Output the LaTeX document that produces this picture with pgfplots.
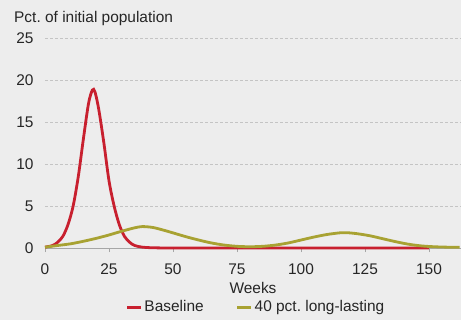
\documentclass[border=0pt]{standalone}
\usepackage{pgfplots}
\pgfplotsset{compat=1.18}
\usepackage{fontspec}
\setmainfont{Liberation Sans}

\definecolor{bgc}{HTML}{EDEDED}
\definecolor{basered}{HTML}{C8202F}
\definecolor{olive}{HTML}{A8A232}
\definecolor{gridc}{HTML}{C4C4C4}
\definecolor{axisc}{HTML}{A6A6A6}
\definecolor{txt}{HTML}{262626}

\begin{document}
\begin{tikzpicture}[font=\fontsize{15.5}{18}\selectfont, text=txt]
% page background
\path[use as bounding box, fill=bgc] (-45bp,-72bp) rectangle (416bp,248bp);
\begin{axis}[
  at={(0,0)}, anchor=south west,
  scale only axis, width=416bp, height=210bp,
  xmin=0, xmax=162.5, ymin=0, ymax=25,
  clip=false,
  axis x line*=bottom, axis y line*=left,
  x axis line style={draw=axisc, line width=0.8bp, -},
  y axis line style={draw=none},
  xtick={0,25,...,150}, ytick={0,5,...,25},
  xtick align=outside, major tick length=4bp,
  xtick style={draw=axisc, line width=0.8bp},
  ytick style={draw=none},
  ymajorgrids,
  grid style={draw=gridc, line width=0.8bp, dash pattern=on 3bp off 2bp},
  /pgf/number format/assume math mode=true,
  tick label style={font=\fontsize{15.5}{18}\selectfont, text=txt},
  yticklabel style={xshift=-8bp},
  xticklabel style={yshift=-8bp},
  xlabel={Weeks},
  xlabel style={font=\fontsize{15.5}{18}\selectfont, text=txt, yshift=-1bp},
  legend columns=2,
  legend style={at={(0.507,-0.281)}, anchor=center, draw=none, fill=none,
    font=\fontsize{15.5}{18}\selectfont, text=txt,
    /tikz/every even column/.append style={column sep=30bp}},
  legend image code/.code={\draw[#1, line width=3bp] (0bp,0bp) -- (14bp,0bp);},
]
\addplot[basered, line width=2.8bp, smooth] coordinates {
(0,0.1) (3,0.3) (5,0.7) (7,1.4) (9,2.8) (11,5.0) (13,8.5) (15,13.0)
(17,17.2) (18.5,18.8) (19.5,18.6) (21,16.5) (23,12.5) (25,8.0) (27,5.0)
(29,2.8) (31,1.4) (33,0.7) (35,0.3) (38,0.1) (42,0.03) (50,0.0)
(75,0.0) (100,0.0) (125,0.0) (150,0.0)
};
\addlegendentry{Baseline}
\addplot[olive, line width=2.8bp, smooth] coordinates {
(0,0.1) (5,0.3) (10,0.5) (15,0.8) (20,1.15) (25,1.55) (30,2.0) (35,2.4)
(38,2.55) (42,2.45) (46,2.15) (50,1.8) (55,1.35) (60,0.95) (65,0.6)
(70,0.35) (75,0.2) (80,0.15) (85,0.2) (90,0.35) (95,0.6) (100,0.95)
(105,1.3) (110,1.6) (115,1.8) (118,1.82) (122,1.7) (127,1.45) (132,1.1)
(137,0.75) (142,0.45) (147,0.25) (152,0.15) (157,0.1) (162,0.08)
};
\addlegendentry{40 pct.\ long-lasting}
% unit label above the y axis
\node[anchor=base west, inner sep=0pt, font=\fontsize{15.5}{18}\selectfont, text=txt]
  at ([shift={(-31bp,225bp)}]rel axis cs:0,0) {Pct.\ of initial population};
\end{axis}
\end{tikzpicture}
\end{document}
